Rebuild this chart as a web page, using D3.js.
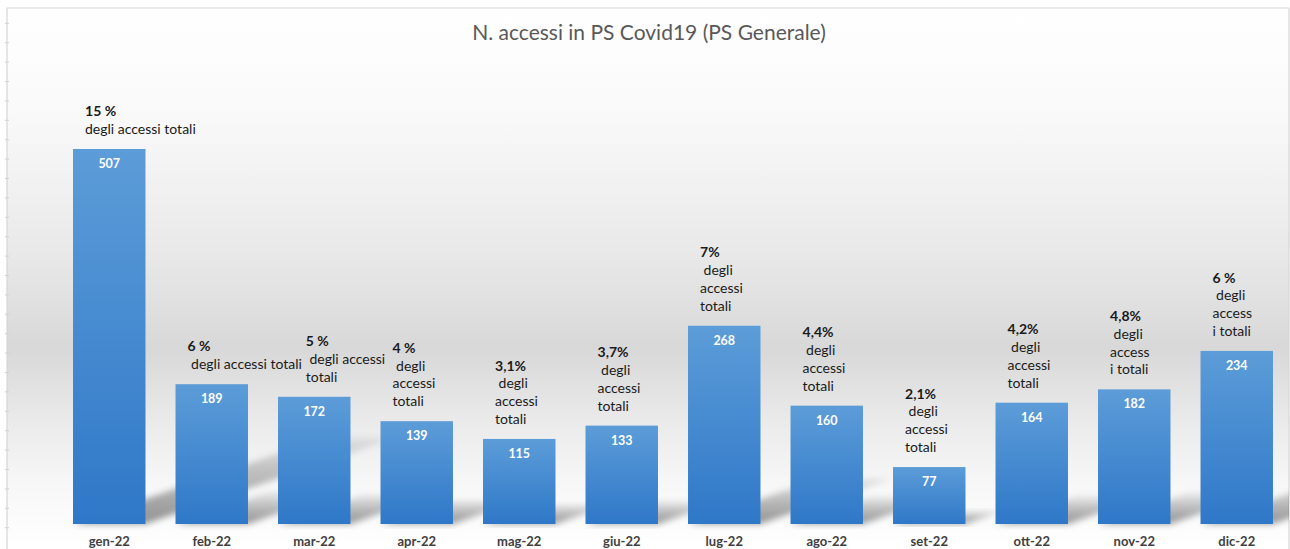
<!DOCTYPE html>
<html>
<head>
<meta charset="utf-8">
<script src="https://cdn.jsdelivr.net/npm/d3@7"></script>
<style>
  body { margin: 0; background: #fff; }
  svg { display: block; font-family: Lato, "Open Sans", sans-serif; }
</style>
</head>
<body>
<div id="chart"></div>
<script>
//Data
var months = ["gen-22","feb-22","mar-22","apr-22","mag-22","giu-22","lug-22","ago-22","set-22","ott-22","nov-22","dic-22"];
var accessi = [507, 189, 172, 139, 115, 133, 268, 160, 77, 164, 182, 234];
var pctLabels = ["15 %","6 %","5 %","4 %","3,1%","3,7%","7%","4,4%","2,1%","4,2%","4,8%","6 %"];
var noteLines = [
	["degli accessi totali"],
	[" degli accessi totali"],
	[" degli accessi", "totali"],
	[" degli", "accessi", "totali"],
	[" degli", "accessi", "totali"],
	[" degli", "accessi", "totali"],
	[" degli", "accessi", "totali"],
	[" degli", "accessi", "totali"],
	[" degli", "accessi", "totali"],
	[" degli", "accessi", "totali"],
	[" degli", "access", "i totali"],
	[" degli", "access", "i totali"]
];
var title = "N. accessi in PS Covid19 (PS Generale)";

//Canvas
var W = 1290, H = 549;
var frame = {left: 7, top: 8, right: 1289};
var base = 524;

var svg = d3.select("#chart").append("svg")
	.attr("width", W)
	.attr("height", H);

var defs = svg.append("defs");

//background gradient (white -> gray -> white)
var bg = defs.append("linearGradient").attr("id", "bgGrad")
	.attr("x1", 0).attr("y1", 0).attr("x2", 0).attr("y2", 1);
[[0, "#ffffff"], [0.2, "#f9f9f9"], [0.45, "#e9e9e9"], [0.63, "#d8d8d8"], [0.77, "#ebebeb"], [0.88, "#f7f7f7"], [1, "#ffffff"]]
	.forEach(function(s) { bg.append("stop").attr("offset", s[0]).attr("stop-color", s[1]); });

//bar gradient
var bar = defs.append("linearGradient").attr("id", "barGrad")
	.attr("x1", 0).attr("y1", 0).attr("x2", 0).attr("y2", 1);
bar.append("stop").attr("offset", 0).attr("stop-color", "#5c9cd8");
bar.append("stop").attr("offset", 1).attr("stop-color", "#2f78c8");

//shadow fade
var sg = defs.append("linearGradient").attr("id", "shadowGrad")
	.attr("x1", 0).attr("y1", 1).attr("x2", 0).attr("y2", 0);
sg.append("stop").attr("offset", 0).attr("stop-color", "#000").attr("stop-opacity", 0.42);
sg.append("stop").attr("offset", 0.6).attr("stop-color", "#000").attr("stop-opacity", 0.22);
sg.append("stop").attr("offset", 1).attr("stop-color", "#000").attr("stop-opacity", 0.06);

defs.append("filter").attr("id", "blur").attr("x", "-20%").attr("y", "-20%").attr("width", "140%").attr("height", "140%")
	.append("feGaussianBlur").attr("stdDeviation", 3);

defs.append("clipPath").attr("id", "plotClip")
	.append("rect").attr("x", frame.left).attr("y", frame.top)
	.attr("width", frame.right - frame.left).attr("height", H - frame.top);

//background + frame
svg.append("rect")
	.attr("x", frame.left).attr("y", frame.top)
	.attr("width", frame.right - frame.left).attr("height", H - frame.top)
	.attr("fill", "url(#bgGrad)");

svg.append("path")
	.attr("d", "M" + frame.left + "," + H + "V" + frame.top + "H" + frame.right + "V" + H)
	.attr("fill", "none").attr("stroke", "#d6d6d6").attr("stroke-width", 1.2);

//faint sheet row marks on the left edge
var rowScale = d3.scaleLinear().domain([0, 27]).range([23.3, 23.3 + 27 * 19.4]);
svg.append("g").selectAll("line")
	.data(d3.range(0, 27))
	.enter().append("line")
	.attr("x1", 5).attr("x2", 9)
	.attr("y1", function(d) { return rowScale(d); })
	.attr("y2", function(d) { return rowScale(d); })
	.attr("stroke", "#d0d0d0");

//Scales
var xScale = d3.scaleBand().domain(months).range([58, 1288]).paddingInner(0.293).paddingOuter(0.1465);
var yScale = d3.scaleLinear().domain([0, 600]).range([base, 80.2]);
var bw = xScale.bandwidth();

//Title
svg.append("text")
	.attr("x", 649).attr("y", 40)
	.attr("text-anchor", "middle")
	.attr("font-size", "21px")
	.attr("fill", "#595959")
	.text(title);

var plot = svg.append("g").attr("clip-path", "url(#plotClip)");

//perspective shadows (up-right)
plot.selectAll("path.shadow")
	.data(accessi)
	.enter().append("path")
	.attr("class", "shadow")
	.attr("fill", "url(#shadowGrad)")
	.attr("filter", "url(#blur)")
	.attr("d", function(d, i) {
		var x0 = xScale(months[i]), x1 = x0 + bw;
		var h = base - yScale(d), sh = 0.23 * h, dx = 2.9 * sh;
		return "M" + x0 + "," + base + "L" + x1 + "," + base +
			"L" + (x1 + dx) + "," + (base - sh) + "L" + (x0 + dx) + "," + (base - sh) + "Z";
	});

//Bars
plot.selectAll("rect.bar")
	.data(accessi)
	.enter().append("rect")
	.attr("class", "bar")
	.attr("x", function(d, i) { return xScale(months[i]); })
	.attr("y", function(d) { return yScale(d); })
	.attr("width", bw)
	.attr("height", function(d) { return base - yScale(d); })
	.attr("fill", "url(#barGrad)");

//Value labels
svg.selectAll("text.val")
	.data(accessi)
	.enter().append("text")
	.attr("class", "val")
	.attr("x", function(d, i) { return xScale(months[i]) + bw / 2; })
	.attr("y", function(d) { return yScale(d) + 19; })
	.attr("text-anchor", "middle")
	.attr("font-size", "12.5px")
	.attr("font-weight", 700)
	.attr("fill", "#ffffff")
	.text(function(d) { return d; });

//X axis labels
var xAxis = d3.axisBottom(xScale).tickSize(0).tickPadding(0);
var gx = svg.append("g")
	.attr("transform", "translate(0," + (base + 22) + ")")
	.call(xAxis);
gx.select(".domain").remove();
gx.selectAll("text")
	.attr("dy", 0)
	.attr("font-family", "Lato, sans-serif")
	.attr("font-size", "13px")
	.attr("font-weight", 700)
	.attr("fill", "#404040");

//Annotation boxes above each bar
var lineH = 17.8;
var noteX = [], noteY = [];
var notes = svg.selectAll("g.note")
	.data(accessi)
	.enter().append("g")
	.attr("class", "note");

notes.append("text")
	.attr("font-size", "14px")
	.attr("font-weight", 700)
	.attr("fill", "#1a1a1a")
	.text(function(d, i) { return pctLabels[i]; });

notes.each(function(d, i) {
	var g = d3.select(this);
	noteLines[i].forEach(function(line, k) {
		g.append("text")
			.attr("y", (k + 1) * lineH)
			.attr("font-size", "14px")
			.attr("fill", "#1a1a1a")
			.text(line.replace(/ /g, "\u00a0"));
	});
});

//place each box above its bar; slide it right if it runs into the previous box
var prevBox = null;
notes.each(function(d, i) {
	var g = d3.select(this);
	var bb = this.getBBox();
	var n = noteLines[i].length;
	var tx = xScale(months[i]) + 12;
	var ty = yScale(d) - 15 - n * lineH;
	if (prevBox) {
		var top = ty + bb.y, bottom = top + bb.height;
		var overlapY = top < prevBox.bottom && bottom > prevBox.top;
		if (overlapY && tx + bb.x < prevBox.right + 4) tx = prevBox.right + 4 - bb.x;
	}
	g.attr("transform", "translate(" + tx + "," + ty + ")");
	prevBox = {top: ty + bb.y, bottom: ty + bb.y + bb.height, right: tx + bb.x + bb.width};
});
</script>
</body>
</html>
